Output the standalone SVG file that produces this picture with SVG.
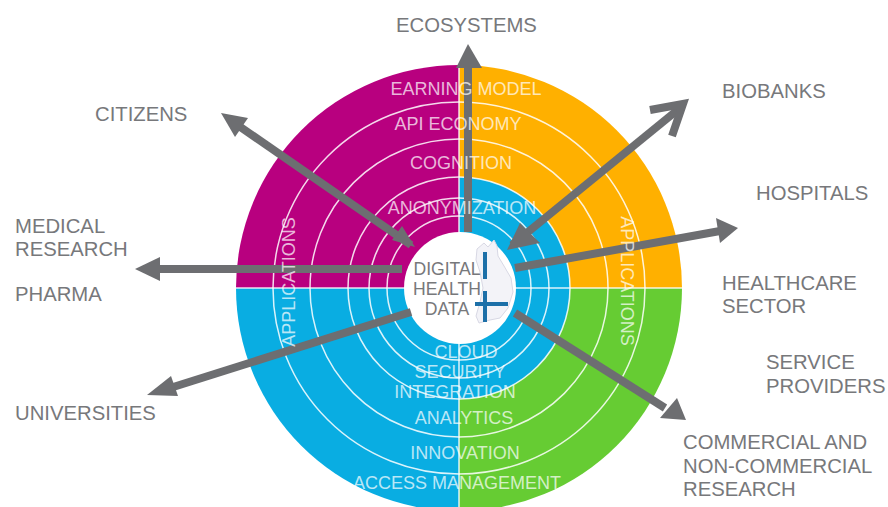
<svg xmlns="http://www.w3.org/2000/svg" width="888" height="507" viewBox="0 0 888 507">
<style>
.l{font-family:"Liberation Sans",Arial,sans-serif;font-size:20.3px;fill:#77787b}
.r{font-family:"Liberation Sans",Arial,sans-serif;font-size:18px;fill:#fff;fill-opacity:.72;text-anchor:middle}
.c{font-family:"Liberation Sans",Arial,sans-serif;font-size:17.6px;fill:#77787b;text-anchor:middle}
.ring{fill:none;stroke:#fff;stroke-opacity:.85;stroke-width:1.5}
.a{fill:none;stroke:#6d6e71;stroke-width:8}
.h{fill:#6d6e71}
</style>
<g id="wheel">
<path d="M459 288V65A223 223 0 0 0 236 288Z" fill="#b8007f"/>
<path d="M459 288V65A223 223 0 0 1 682 288Z" fill="#ffb000"/>
<path d="M459 288H236A223 223 0 0 0 459 511Z" fill="#09ade2"/>
<path d="M459 288V511A223 223 0 0 0 682 288Z" fill="#66cc33"/>
<path d="M459 288V177A111 111 0 0 1 570 288A111 111 0 0 1 459 399Z" fill="#09ade2"/>
<circle class="ring" cx="459" cy="288" r="186"/>
<circle class="ring" cx="459" cy="288" r="149"/>
<circle class="ring" cx="459" cy="288" r="111"/>
<circle class="ring" cx="459" cy="288" r="90"/>
<circle class="ring" cx="459" cy="288" r="72"/>
<path d="M236 288H682M459 65V511" stroke="#fff" stroke-opacity=".85" stroke-width="1.5" fill="none"/>
<circle cx="460" cy="288" r="56" fill="#fff"/>
</g>
<g id="finland">
<path d="M477 249L484 243L488 247L494 240L497 246L498 256L504 266L511 278L513 292L508 308L500 318L490 320L479 323L476 316L480 302L483 288L480 272L476 260Z" fill="#f3f3f8" stroke="#d8d8e4"/>
<path d="M485 252V279M485 291V322M475 304H508" fill="none" stroke="#1d70a8" stroke-width="4"/>
</g>
<g id="connectors">
<path class="a" d="M468 232V60"/><path class="h" d="M468 44L456 68H482Z"/>
<path class="a" d="M411 245L236 124"/><path class="h" d="M221 113L248 118L235 137Z"/><path class="h" d="M415 247L392 240L402 226Z"/>
<path class="a" d="M402 269H155"/><path class="h" d="M135 269L160 257V281Z"/>
<path class="a" d="M411 312L170 388"/><path class="h" d="M147 395L171 376L178 396Z"/>
<path class="a" d="M512 245L680 108"/><path class="h" d="M507 250L520 223L540 243Z"/><path class="a" d="M650 110L683 104L672 136"/>
<path class="a" d="M515 268L720 231"/><path class="h" d="M738 228L716 218L720 243Z"/>
<path class="a" d="M515 313L665 408"/><path class="h" d="M686 420L660 418L677 398Z"/>
</g>
<g id="ring-labels">
<text class="r" x="466" y="95">EARNING MODEL</text>
<text class="r" x="458" y="130">API ECONOMY</text>
<text class="r" x="461" y="169">COGNITION</text>
<text class="r" x="462" y="214">ANONYMIZATION</text>
<text class="r" x="466" y="358">CLOUD</text>
<text class="r" x="460" y="378">SECURITY</text>
<text class="r" x="455" y="398">INTEGRATION</text>
<text class="r" x="464" y="424">ANALYTICS</text>
<text class="r" x="465" y="459">INNOVATION</text>
<text class="r" x="457" y="489">ACCESS MANAGEMENT</text>
<text class="r" transform="translate(295 282) rotate(-90)">APPLICATIONS</text>
<text class="r" transform="translate(621 281) rotate(90)">APPLICATIONS</text>
</g>
<g id="center-label">
<text class="c" x="447" y="275">DIGITAL</text>
<text class="c" x="447" y="295">HEALTH</text>
<text class="c" x="447" y="315">DATA</text>
</g>
<g id="ecosystems"><text class="l" x="396" y="32">ECOSYSTEMS</text></g>
<g id="citizens"><text class="l" x="95" y="121">CITIZENS</text></g>
<g id="medical-research"><text class="l" x="15" y="233">MEDICAL</text><text class="l" x="15" y="256">RESEARCH</text></g>
<g id="pharma"><text class="l" x="15" y="301">PHARMA</text></g>
<g id="universities"><text class="l" x="15" y="420">UNIVERSITIES</text></g>
<g id="biobanks"><text class="l" x="722" y="98">BIOBANKS</text></g>
<g id="hospitals"><text class="l" x="756" y="200">HOSPITALS</text></g>
<g id="healthcare-sector"><text class="l" x="722" y="290">HEALTHCARE</text><text class="l" x="722" y="313">SECTOR</text></g>
<g id="service-providers"><text class="l" x="766" y="369">SERVICE</text><text class="l" x="766" y="393">PROVIDERS</text></g>
<g id="commercial"><text class="l" x="683" y="449">COMMERCIAL AND</text><text class="l" x="683" y="473">NON-COMMERCIAL</text><text class="l" x="683" y="496">RESEARCH</text></g>
</svg>
